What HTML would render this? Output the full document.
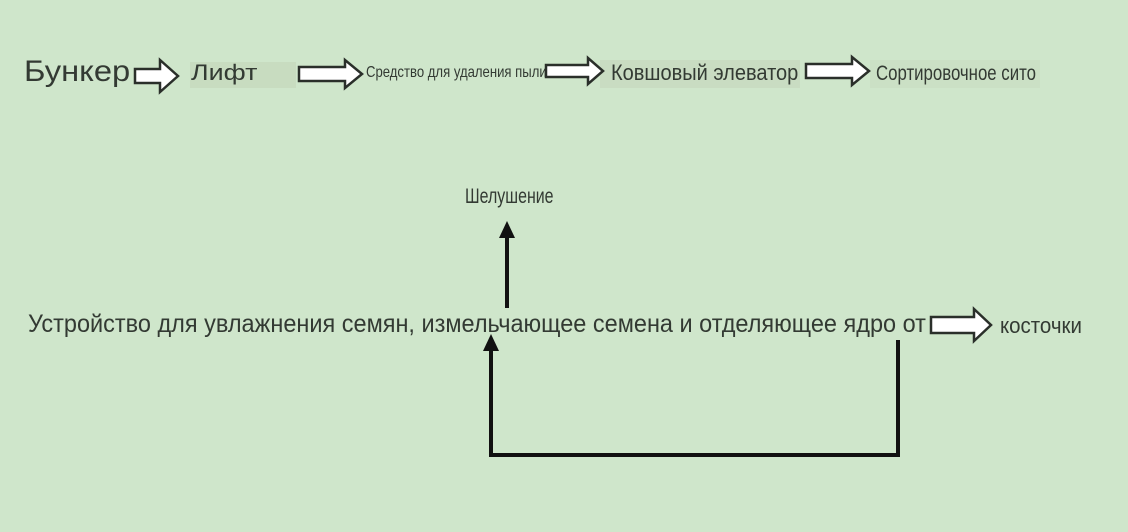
<!DOCTYPE html>
<html><head><meta charset="utf-8"><style>
body{margin:0;width:1128px;height:532px;background:#cfe6cb;position:relative;overflow:hidden;font-family:"Liberation Sans",sans-serif;color:#333a33}
.t{position:absolute;white-space:nowrap;line-height:1;transform-origin:0 0}
svg{position:absolute;left:0;top:0}
</style></head><body>
<div class="t" style="left:190px;top:62px;width:106px;height:26px;background:#c8dcc0"></div>
<div class="t" style="left:600px;top:60px;width:200px;height:28px;background:#c9dcc2"></div>
<div class="t" style="left:870px;top:60px;width:170px;height:28px;background:#cbe0c5"></div>
<div class="t" style="left:24px;top:57px;font-size:30px;transform:scaleX(1.09)">Бункер</div>
<div class="t" style="left:191px;top:62px;font-size:22px;transform:scaleX(1.22)">Лифт</div>
<div class="t" style="left:366px;top:65px;font-size:16px;transform:scaleX(0.82)">Средство для удаления пыли</div>
<div class="t" style="left:611px;top:62px;font-size:22px;transform:scaleX(0.91)">Ковшовый элеватор</div>
<div class="t" style="left:876px;top:63px;font-size:21px;transform:scaleX(0.8)">Сортировочное сито</div>
<div class="t" style="left:465px;top:186px;font-size:21px;transform:scaleX(0.76)">Шелушение</div>
<div class="t" style="left:28px;top:312px;font-size:25px;transform:scaleX(0.94)">Устройство для увлажнения семян, измельчающее семена и отделяющее ядро от</div>
<div class="t" style="left:1000px;top:315px;font-size:22px;transform:scaleX(0.93)">косточки</div>
<svg width="1128" height="532">
<g fill="#fff" stroke="#2a2f2a" stroke-width="2.5" stroke-linejoin="miter">
<polygon points="135,69 160,69 160,60 178,76 160,92 160,83 135,83"/>
<polygon points="299,67 345,67 345,60 362,74 345,88 345,81 299,81"/>
<polygon points="546,65 588,65 588,58 603,71 588,84 588,77 546,77"/>
<polygon points="806,64 852,64 852,57 869,71 852,85 852,78 806,78"/>
<polygon points="931,317 974,317 974,309 991,325 974,341 974,333 931,333"/>
</g>
<g stroke="#111" stroke-width="4" fill="none">
<line x1="507" y1="308" x2="507" y2="232"/>
<polyline points="898,340 898,455 491,455 491,345"/>
</g>
<g fill="#111">
<polygon points="507,221 499,238 515,238"/>
<polygon points="491,334 483,351 499,351"/>
</g>
</svg>
</body></html>
